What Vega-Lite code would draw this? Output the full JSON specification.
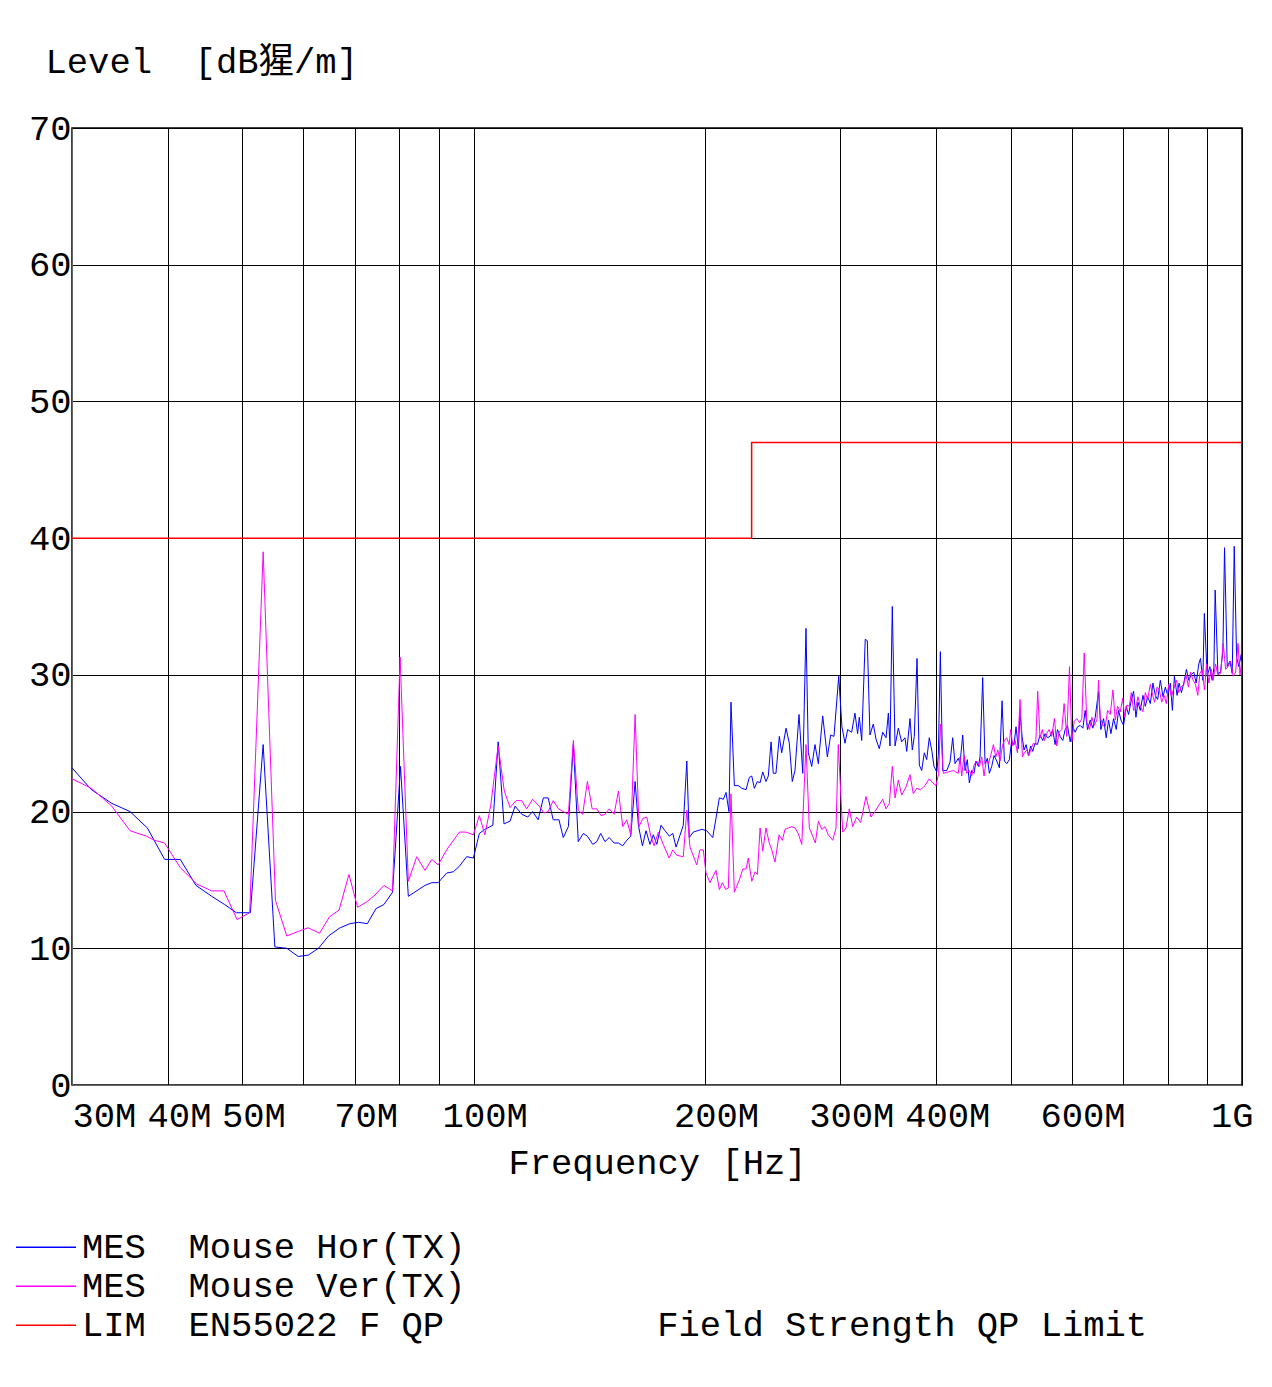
{
  "$schema": "https://vega.github.io/schema/vega-lite/v6.json",
  "autosize": {"type": "none"},
  "width": 1170,
  "height": 957,
  "padding": {"left": 72, "top": 128, "right": 30, "bottom": 302},
  "background": "#ffffff",
  "config": {
    "font": "Liberation Mono",
    "view": {"stroke": "#000000", "strokeWidth": 1.5}
  },
  "datasets": {
    "H": [
      [30.0,23.2],[31.8,21.6],[33.8,20.6],[35.7,20.0],[37.6,18.8],[39.6,16.5],[41.5,16.5],[43.5,14.6],[45.6,13.8],[47.4,13.2],[49.1,12.6],[51.2,12.6],[53.2,24.9],[55.1,10.1],[57.1,10.0],[59.1,9.4],[60.9,9.5],[62.8,10.0],[64.7,10.9],[67.0,11.5],[69.0,11.8],[70.8,11.9],[72.7,11.8],[74.6,12.9],[76.4,13.2],[78.4,14.1],[80.3,23.3],[82.2,13.8],[86.4,14.6],[88.2,14.8],[89.9,14.8],[92.2,15.5],[94.1,15.6],[95.8,16.0],[97.9,16.7],[99.9,16.6],[101.7,18.4],[103.4,18.7],[105.9,19.0],[107.6,25.1],[109.5,19.1],[111.5,19.3],[113.2,20.4],[115.5,19.8],[117.6,19.6],[119.3,20.0],[121.3,19.4],[123.2,21.0],[125.0,21.0],[126.9,19.4],[129.1,19.4],[130.8,18.1],[132.8,18.9],[134.8,24.9],[136.8,17.8],[138.9,18.4],[140.6,18.2],[142.9,17.6],[144.6,17.8],[146.3,18.4],[148.2,17.8],[150.1,18.1],[152.3,17.7],[154.3,17.7],[156.3,17.5],[158.2,17.9],[160.1,18.2],[162.2,22.2],[163.8,19.0],[165.8,17.5],[167.6,18.6],[169.6,17.6],[171.3,18.3],[173.1,17.6],[175.3,19.0],[177.4,18.6],[179.7,18.2],[181.6,18.4],[183.4,17.4],[187.4,19.0],[189.4,23.7],[190.8,18.1],[193.1,18.5],[198.1,18.7],[201.0,18.6],[204.7,18.1],[208.8,21.0],[211.3,20.9],[213.0,21.4],[214.9,20.0],[216.2,28.0],[218.4,21.9],[221.0,21.9],[223.3,21.7],[226.2,21.6],[228.4,22.5],[230.1,22.6],[231.9,21.7],[234.0,22.2],[235.9,22.1],[237.8,22.9],[240.1,22.2],[241.8,22.6],[243.8,25.1],[245.4,22.8],[247.4,22.8],[249.9,25.5],[251.7,24.3],[255.0,26.1],[257.5,25.0],[259.8,22.2],[261.9,23.0],[265.1,27.1],[268.1,22.8],[270.7,33.4],[272.6,24.3],[275.4,23.3],[278.1,24.9],[280.9,23.5],[284.6,27.0],[288.6,24.0],[291.5,25.6],[294.4,25.5],[298.6,29.9],[301.5,26.2],[304.3,25.0],[306.7,26.0],[310.4,25.8],[313.5,27.2],[316.0,25.7],[317.6,26.9],[319.9,25.2],[323.3,32.6],[325.3,32.5],[327.9,25.6],[331.2,26.4],[333.9,25.3],[337.2,24.6],[340.7,25.8],[344.1,25.4],[346.5,27.2],[348.2,24.8],[350.6,35.0],[353.5,24.8],[357.0,26.1],[360.6,25.1],[364.2,25.4],[366.1,24.4],[369.7,26.8],[372.3,24.5],[374.5,25.5],[377.6,31.2],[380.2,23.4],[382.9,23.0],[385.9,24.3],[388.7,23.8],[391.7,25.4],[394.6,24.5],[397.3,23.3],[400.6,22.9],[402.5,24.1],[404.9,31.7],[407.8,23.0],[412.7,23.0],[416.8,23.6],[420.2,25.4],[423.1,23.5],[427.3,23.9],
      [429.5,23.5],[433.0,25.6],[436.0,23.0],[439.0,23.8],[441.7,22.1],[444.8,23.0],[447.9,22.8],[450.6,23.7],[453.8,23.3],[456.1,24.0],[459.7,29.8],[463.0,23.5],[466.2,23.9],[469.0,22.8],[472.3,23.3],[475.6,24.1],[479.5,23.7],[483.3,23.2],[487.2,28.1],[490.6,23.7],[494.0,23.5],[498.0,23.8],[501.5,25.2],[505.0,24.9],[508.0,26.2],[511.6,24.6],[514.2,27.3],[517.3,25.5],[520.4,24.5],[523.5,24.9],[527.2,24.1],[530.9,24.8],[534.1,24.4],[537.8,25.0],[541.6,24.9],[545.9,25.6],[550.3,25.2],[554.2,25.7],[558.1,25.4],[562.6,25.5],[567.1,26.0],[571.1,24.9],[575.2,26.0],[579.8,25.5],[584.4,25.2],[588.6,26.0],[592.7,26.3],[597.5,25.1],[602.3,26.2],[606.5,25.8],[610.8,26.2],[615.7,26.3],[620.7,26.1],[625.0,27.4],[629.4,26.0],[634.5,26.7],[639.6,26.1],[644.1,26.9],[650.5,28.8],[655.1,26.0],[660.4,26.8],[665.7,25.4],[670.4,26.7],[675.1,25.7],[680.5,26.8],[686.0,26.0],[690.8,27.4],[695.7,26.7],[701.2,26.3],[706.8,27.7],[711.8,27.1],[716.8,28.0],[722.6,28.8],[727.7,26.9],[732.1,28.0],[737.2,27.4],[743.2,28.5],[748.4,27.7],[753.7,28.4],[759.7,27.9],[765.8,29.4],[771.2,28.5],[776.7,28.2],[782.9,29.6],[789.2,28.4],[794.8,29.1],[800.4,28.5],[806.8,29.4],[811.7,27.4],[816.6,29.9],[823.2,28.5],[828.1,29.4],[834.0,28.7],[839.9,29.4],[846.6,30.4],[852.6,29.6],[858.6,30.0],[865.5,30.2],[871.6,29.4],[878.6,30.8],[883.0,31.2],[889.2,29.6],[893.3,34.5],[900.9,29.9],[908.2,30.6],[914.6,29.6],[919.2,30.5],[922.7,36.2],[930.3,30.1],[937.8,30.2],[944.4,31.8],[949.0,39.3],[956.7,30.6],[964.4,31.0],[971.2,30.1],[977.0,39.4],[983.9,31.3],[990.8,30.6],[997.8,31.5],[1000.0,30.8]
    ],
    "V": [
      [30.0,22.4],[31.8,21.7],[33.8,20.4],[35.7,18.6],[37.5,18.2],[38.4,17.9],[39.6,17.7],[41.5,15.9],[43.6,14.7],[45.6,14.2],[47.3,14.2],[49.2,12.1],[51.1,12.6],[53.2,39.0],[55.2,13.5],[57.1,10.9],[58.9,11.2],[60.9,11.5],[63.0,11.1],[64.9,12.3],[66.8,12.8],[68.8,15.4],[70.6,13.0],[72.6,13.4],[74.4,13.9],[76.4,14.6],[78.4,14.2],[80.2,31.3],[82.2,14.9],[84.3,16.7],[86.4,15.7],[88.2,16.5],[89.9,16.1],[92.2,17.2],[95.8,18.5],[97.7,18.5],[99.9,18.3],[101.7,19.7],[103.4,18.3],[105.2,20.4],[107.6,24.8],[109.6,21.5],[111.5,20.3],[113.5,20.8],[115.5,20.8],[117.2,20.2],[119.3,20.9],[121.7,20.4],[123.4,19.9],[125.0,20.0],[126.9,20.8],[128.9,20.2],[130.8,20.0],[132.8,19.8],[134.8,25.2],[136.8,20.1],[138.6,19.8],[140.6,22.2],[142.6,20.2],[144.6,20.2],[146.5,19.7],[148.2,19.8],[150.1,20.2],[152.3,19.8],[154.3,21.5],[156.3,18.9],[158.2,19.4],[160.1,18.3],[162.2,27.1],[164.1,18.9],[166.0,19.5],[168.0,19.6],[170.0,18.2],[171.7,17.5],[173.9,18.5],[176.5,17.6],[179.6,16.6],[181.6,17.2],[183.8,16.8],[187.4,16.7],[189.4,20.1],[191.2,17.4],[195.1,16.1],[197.0,17.2],[199.0,17.2],[200.6,15.5],[203.0,14.8],[206.7,15.7],[208.8,14.3],[210.7,14.8],[212.8,14.3],[214.5,14.4],[216.2,21.3],[218.4,14.1],[221.7,15.0],[224.0,15.8],[226.2,15.8],[227.7,16.6],[230.1,14.9],[232.4,15.6],[234.0,15.4],[235.9,18.8],[237.8,17.1],[240.1,18.8],[242.5,17.7],[244.3,17.2],[246.7,16.3],[249.7,18.3],[252.2,17.9],[254.2,18.7],[256.7,18.8],[259.4,18.9],[261.9,18.8],[264.5,18.4],[267.3,17.6],[270.7,24.9],[273.4,18.8],[276.2,18.2],[278.4,17.7],[280.9,19.3],[283.8,18.7],[286.6,18.9],[289.4,18.3],[293.3,17.9],[296.2,18.8],[298.2,24.9],[302.2,18.5],[305.2,18.8],[308.2,20.2],[311.4,18.9],[315.1,19.6],[318.9,19.2],[324.0,21.1],[328.9,19.6],[332.9,20.0],[336.2,20.4],[340.7,20.9],[344.1,20.2],[347.5,20.6],[350.6,23.3],[353.5,21.0],[357.0,22.3],[360.6,21.2],[365.3,21.8],[369.7,22.7],[373.4,21.3],[377.2,21.7],[381.7,21.6],[386.7,21.9],[391.7,22.4],[395.8,22.1],[399.7,21.9],[402.9,22.8],[404.9,26.4],[408.5,22.8],[414.7,22.9],[421.0,23.0],[427.3,22.8],
      [429.5,24.0],[431.7,22.6],[434.7,24.1],[438.2,22.8],[441.7,23.0],[444.8,22.6],[447.9,23.4],[451.5,23.7],[455.2,23.3],[458.4,24.0],[461.6,22.6],[464.5,23.7],[467.6,23.5],[470.9,24.1],[474.7,24.9],[478.1,24.0],[481.0,24.5],[484.3,23.7],[487.7,24.8],[490.6,25.2],[494.0,25.4],[497.6,24.9],[500.0,26.0],[503.0,24.8],[506.6,25.2],[510.1,24.3],[514.2,28.2],[517.8,24.0],[520.9,24.3],[524.6,24.5],[528.2,24.1],[531.4,24.6],[535.2,25.0],[538.9,24.9],[542.1,28.8],[545.9,25.4],[549.7,26.0],[553.1,25.2],[557.0,25.7],[560.9,26.0],[565.4,25.5],[570.0,26.8],[574.0,24.8],[578.0,25.8],[582.7,26.0],[586.8,27.9],[591.5,25.5],[596.3,30.6],[600.5,25.1],[604.7,26.6],[609.6,26.8],[614.5,26.5],[618.8,26.8],[623.2,31.6],[628.2,26.5],[633.3,26.0],[637.7,26.9],[642.2,26.3],[647.4,26.7],[650.5,29.6],[653.8,26.9],[659.1,26.3],[663.7,26.2],[668.4,27.4],[673.8,27.1],[679.2,28.9],[684.0,26.7],[688.8,27.7],[694.4,27.3],[699.3,28.3],[703.5,26.9],[708.3,27.8],[713.3,27.7],[717.6,28.7],[722.6,27.4],[727.7,27.6],[732.1,28.4],[737.2,27.7],[743.2,27.3],[748.4,28.7],[753.7,28.2],[759.7,29.3],[765.1,28.5],[769.7,28.0],[775.1,29.1],[780.6,28.9],[786.1,28.0],[791.6,28.5],[797.2,27.9],[802.8,29.3],[809.3,28.4],[815.0,29.0],[821.6,29.6],[827.3,28.7],[833.1,29.1],[839.9,29.3],[845.8,30.0],[851.7,29.1],[856.9,30.2],[863.8,29.6],[869.9,29.3],[876.0,28.5],[881.3,30.1],[887.5,30.4],[893.7,28.9],[899.1,30.8],[905.4,29.4],[911.8,30.4],[917.3,29.6],[923.8,30.8],[930.3,30.0],[937.8,30.1],[945.3,32.3],[952.0,30.4],[958.7,30.6],[966.4,31.0],[974.2,29.9],[981.1,30.2],[988.0,32.3],[994.0,30.0],[999.0,31.0],[1000.0,29.9]
    ],
    "L": [[30,40,0],[230,40,1],[230,47,2],[1000,47,3]]
  },
  "encoding": {
    "x": {
      "field": "f", "type": "quantitative",
      "scale": {"type": "log", "domain": [30, 1000], "nice": false},
      "axis": {
        "values": [30,40,50,60,70,80,90,100,200,300,400,500,600,700,800,900,1000],
        "labelExpr": "indexof([30,40,50,70,100,200,300,400,600], datum.value) >= 0 ? datum.value + 'M' : (datum.value == 1000 ? '1G' : '')",
        "labelFlush": true,
        "labelOffset": {"condition": {"test": "datum.value == 30", "value": 0}, "value": 11},
        "labelOverlap": false,
        "labelBound": false,
        "labelFont": "Liberation Mono",
        "labelFontSize": 35.5,
        "labelColor": "#000000",
        "labelBaseline": "alphabetic",
        "labelPadding": 41,
        "ticks": false,
        "tickSize": 0,
        "grid": true,
        "gridColor": "#000000",
        "gridWidth": 1,
        "domainColor": "#666666",
        "title": "Frequency [Hz]",
        "titleFont": "Liberation Mono",
        "titleFontSize": 35.5,
        "titleFontWeight": "normal",
        "titleColor": "#000000",
        "titleBaseline": "alphabetic",
        "titleY": 88
      }
    },
    "y": {
      "field": "v", "type": "quantitative",
      "scale": {"domain": [0, 70], "nice": false, "zero": false},
      "axis": {
        "values": [0,10,20,30,40,50,60,70],
        "labelFont": "Liberation Mono",
        "labelFontSize": 35.5,
        "labelColor": "#000000",
        "labelBaseline": "middle",
        "labelPadding": 1,
        "ticks": false,
        "tickSize": 0,
        "grid": true,
        "gridColor": "#000000",
        "gridWidth": 1,
        "domainColor": "#666666",
        "title": "Level\u00a0\u00a0[dB猩/m]",
        "titleFont": "Liberation Mono, Noto Sans CJK SC",
        "titleFontSize": 35.5,
        "titleFontWeight": "normal",
        "titleColor": "#000000",
        "titleAngle": 0,
        "titleAlign": "left",
        "titleBaseline": "alphabetic",
        "titleX": -27,
        "titleY": -56
      }
    },
    "color": {
      "field": "s", "type": "nominal",
      "scale": {"domain": ["H", "V", "L"], "range": ["#0000ff", "#ff00ff", "#ff0000"]},
      "legend": {
        "title": null,
        "orient": "none",
        "legendX": -57,
        "legendY": 1100,
        "direction": "vertical",
        "symbolType": "stroke",
        "symbolSize": 3600,
        "symbolStrokeWidth": 1.5,
        "clipHeight": 38.5,
        "rowPadding": 0,
        "padding": 0,
        "labelFont": "Liberation Mono",
        "labelFontSize": 35.5,
        "labelColor": "#000000",
        "labelLimit": 2000,
        "labelOffset": 5,
        "labelExpr": "datum.value == 'H' ? 'MES\u00a0\u00a0Mouse Hor(TX)' : (datum.value == 'V' ? 'MES\u00a0\u00a0Mouse Ver(TX)' : 'LIM\u00a0\u00a0EN55022 F QP\u00a0\u00a0\u00a0\u00a0\u00a0\u00a0\u00a0\u00a0\u00a0\u00a0Field Strength QP Limit')"
      }
    }
  },
  "layer": [
    {
      "data": {"name": "H"},
      "transform": [{"calculate": "'H'", "as": "s"}, {"calculate": "datum[0]", "as": "f"}, {"calculate": "datum[1]", "as": "v"}],
      "mark": {"type": "line", "strokeWidth": 1, "clip": true}
    },
    {
      "data": {"name": "V"},
      "transform": [{"calculate": "'V'", "as": "s"}, {"calculate": "datum[0]", "as": "f"}, {"calculate": "datum[1]", "as": "v"}],
      "mark": {"type": "line", "strokeWidth": 1, "clip": true}
    },
    {
      "data": {"name": "L"},
      "transform": [{"calculate": "'L'", "as": "s"}, {"calculate": "datum[0]", "as": "f"}, {"calculate": "datum[1]", "as": "v"}, {"calculate": "datum[2]", "as": "i"}],
      "mark": {"type": "line", "strokeWidth": 1.5, "clip": true},
      "encoding": {"order": {"field": "i"}}
    }
  ]
}
